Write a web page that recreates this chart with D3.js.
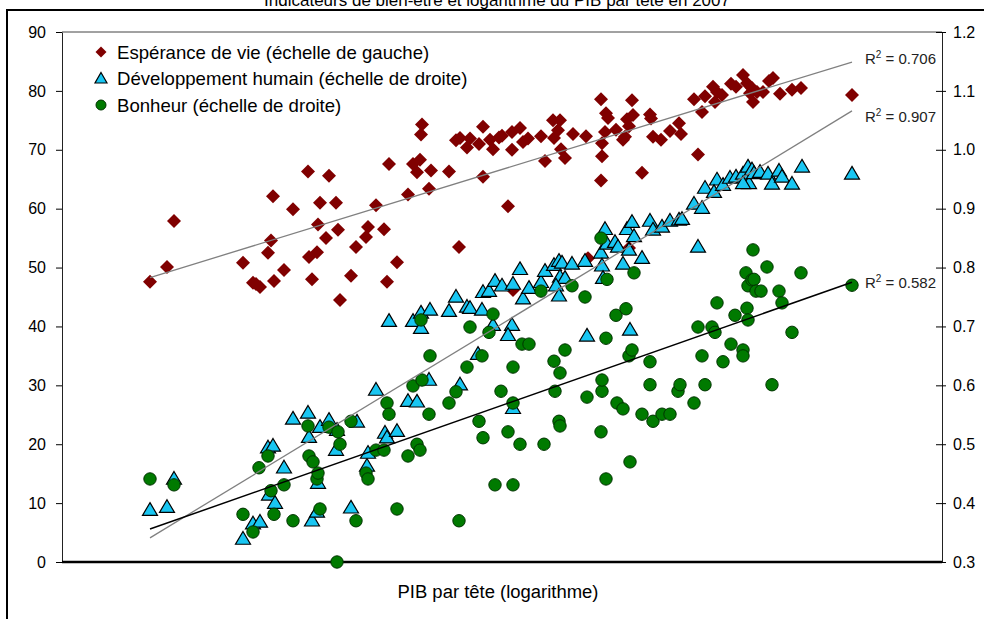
<!DOCTYPE html>
<html>
<head>
<meta charset="utf-8">
<script src="https://cdn.jsdelivr.net/npm/d3@7"></script>
<style>
    body { margin: 0; background: #fff; }
    svg { display: block; font-family: "Liberation Sans", Arial, sans-serif; }
    .narrow { font-family: "Liberation Sans Narrow", "Arial Narrow", "Liberation Sans", sans-serif; }
</style>
</head>
<body>
<svg id="chart" width="984" height="619"></svg>
<script>
/*global d3*/
"use strict";

var title = 'Indicateurs de bien-être et logarithme du PIB par tête en 2007',
    xLabel = 'PIB par tête (logarithme)',
    legendLabels = [
        'Espérance de vie (échelle de gauche)',
        'Développement humain (échelle de droite)',
        'Bonheur (échelle de droite)'
    ],
    r2Labels = ['0.706', '0.907', '0.582'],
    leftTicks = [0, 10, 20, 30, 40, 50, 60, 70, 80, 90],
    rightTicks = [0.3, 0.4, 0.5, 0.6, 0.7, 0.8, 0.9, 1.0, 1.1, 1.2];

// [log PIB par tête, espérance de vie en années]
var esperance = [
    [5.88, 47.6], [6.05, 50.1], [6.12, 57.9], [6.81, 50.8], [6.91, 47.4], [6.94, 47.2],
    [6.98, 46.7], [7.06, 52.5], [7.09, 54.6], [7.11, 62.1], [7.12, 47.7], [7.22, 49.6],
    [7.31, 59.9], [7.46, 66.3], [7.47, 51.8], [7.50, 48.0], [7.55, 52.6], [7.56, 57.3],
    [7.58, 61.0], [7.64, 55.0], [7.67, 65.6], [7.74, 61.0], [7.76, 56.4], [7.78, 44.5],
    [7.89, 48.6], [7.94, 53.5], [8.04, 55.2], [8.06, 56.9], [8.14, 60.6], [8.22, 56.5],
    [8.25, 47.6], [8.27, 67.6], [8.35, 50.9], [8.46, 62.4], [8.51, 67.6], [8.55, 66.2],
    [8.58, 68.3], [8.59, 72.6], [8.60, 74.3], [8.67, 63.4], [8.69, 66.5], [8.87, 66.3],
    [8.94, 71.6], [8.97, 53.5], [8.98, 72.0], [9.05, 70.4], [9.08, 71.9], [9.17, 71.0],
    [9.21, 73.9], [9.21, 65.4], [9.28, 71.7], [9.31, 70.1], [9.37, 72.1], [9.40, 72.4],
    [9.46, 60.4], [9.50, 73.0], [9.50, 70.0], [9.51, 46.2], [9.58, 73.7], [9.61, 71.3],
    [9.66, 71.9], [9.79, 72.3], [9.83, 68.1], [9.91, 75.0], [9.96, 73.3], [9.92, 72.0],
    [9.98, 75.0], [9.99, 70.1], [10.03, 68.6], [10.11, 72.7], [10.24, 72.3], [10.26, 51.6],
    [10.39, 78.6], [10.40, 71.1], [10.40, 68.9], [10.39, 64.8], [10.44, 76.2], [10.46, 75.4],
    [10.43, 73.0], [10.54, 73.4], [10.61, 71.7], [10.63, 72.2], [10.65, 75.2], [10.67, 74.0],
    [10.67, 53.3], [10.70, 78.4], [10.71, 75.9], [10.80, 66.1], [10.88, 76.0], [10.89, 75.3],
    [10.91, 72.2], [10.99, 71.7], [11.08, 73.2], [11.17, 74.5], [11.19, 72.7], [11.32, 78.6],
    [11.36, 69.2], [11.40, 76.4], [11.43, 79.1], [11.51, 80.7], [11.55, 79.8], [11.53, 78.1],
    [11.60, 79.3], [11.69, 81.2], [11.74, 80.7], [11.81, 82.7], [11.85, 81.3], [11.88, 79.6],
    [11.90, 80.5], [11.91, 78.1], [11.95, 79.8], [12.01, 79.8], [12.07, 81.7], [12.11, 82.2],
    [12.18, 79.5], [12.30, 80.2], [12.39, 80.5], [12.90, 79.3]
];

// [log PIB par tête, indice de développement humain]
var developpement = [
    [5.88, 0.388], [6.05, 0.393], [6.12, 0.441], [6.81, 0.339], [6.91, 0.365], [6.98, 0.368],
    [7.06, 0.494], [7.11, 0.497], [7.07, 0.414], [7.13, 0.400], [7.22, 0.460], [7.31, 0.543],
    [7.46, 0.553], [7.47, 0.512], [7.50, 0.370], [7.55, 0.385], [7.56, 0.434], [7.58, 0.529],
    [7.67, 0.541], [7.75, 0.524], [7.74, 0.490], [7.89, 0.392], [7.95, 0.538], [8.05, 0.463],
    [8.06, 0.485], [8.14, 0.592], [8.23, 0.519], [8.25, 0.511], [8.35, 0.522], [8.46, 0.573],
    [8.55, 0.572], [8.67, 0.609], [8.98, 0.601], [9.51, 0.561], [8.27, 0.709], [8.51, 0.709],
    [8.59, 0.723], [8.59, 0.697], [8.68, 0.728], [8.87, 0.726], [8.94, 0.750], [9.05, 0.733],
    [9.08, 0.731], [9.20, 0.728], [9.16, 0.653], [9.21, 0.758], [9.27, 0.760], [9.33, 0.777],
    [9.40, 0.769], [9.51, 0.772], [9.58, 0.797], [9.61, 0.747], [9.67, 0.765], [9.79, 0.775],
    [9.83, 0.794], [9.92, 0.804], [9.97, 0.811], [10.00, 0.808], [10.10, 0.806], [9.98, 0.784],
    [10.03, 0.782], [9.94, 0.769], [9.97, 0.752], [9.31, 0.702], [9.50, 0.702], [9.46, 0.685],
    [10.25, 0.684], [10.68, 0.694], [10.23, 0.811], [10.39, 0.825], [10.40, 0.803], [10.41, 0.782],
    [10.43, 0.865], [10.45, 0.840], [10.53, 0.843], [10.56, 0.835], [10.61, 0.806], [10.65, 0.865],
    [10.67, 0.830], [10.72, 0.853], [10.70, 0.877], [10.80, 0.816], [10.88, 0.879], [10.91, 0.864],
    [11.00, 0.869], [11.08, 0.879], [11.17, 0.881], [11.20, 0.882], [11.36, 0.835], [11.32, 0.908],
    [11.40, 0.901], [11.43, 0.935], [11.55, 0.949], [11.52, 0.928], [11.61, 0.940], [11.68, 0.952],
    [11.74, 0.954], [11.81, 0.959], [11.86, 0.971], [11.87, 0.943], [11.81, 0.943], [11.90, 0.966],
    [11.92, 0.960], [11.98, 0.962], [12.06, 0.959], [12.10, 0.942], [12.17, 0.964], [12.20, 0.954],
    [12.30, 0.942], [12.40, 0.971], [12.90, 0.959]
];

// [log PIB par tête, indice de bonheur]
var bonheur = [
    [5.88, 0.441], [6.12, 0.431], [6.81, 0.381], [6.91, 0.351], [6.97, 0.460], [7.06, 0.480],
    [7.09, 0.421], [7.12, 0.381], [7.22, 0.431], [7.31, 0.370], [7.46, 0.531], [7.47, 0.480],
    [7.51, 0.470], [7.55, 0.441], [7.56, 0.451], [7.58, 0.390], [7.67, 0.529], [7.76, 0.521],
    [7.78, 0.500], [7.75, 0.300], [7.89, 0.539], [7.94, 0.370], [8.04, 0.451], [8.06, 0.441],
    [8.14, 0.490], [8.22, 0.490], [8.25, 0.570], [8.27, 0.551], [8.35, 0.390], [8.46, 0.480],
    [8.55, 0.500], [8.58, 0.490], [8.51, 0.599], [8.60, 0.609], [8.67, 0.551], [8.87, 0.570],
    [8.94, 0.589], [8.97, 0.370], [9.17, 0.539], [9.21, 0.511], [9.33, 0.431], [9.51, 0.431],
    [9.39, 0.590], [9.46, 0.521], [9.51, 0.570], [9.58, 0.500], [9.82, 0.500], [9.93, 0.590],
    [9.97, 0.539], [9.98, 0.531], [10.25, 0.580], [10.40, 0.590], [10.40, 0.609], [10.39, 0.521],
    [10.55, 0.570], [10.61, 0.560], [10.44, 0.441], [10.68, 0.470], [10.80, 0.551], [10.91, 0.539],
    [11.00, 0.551], [11.08, 0.551], [10.88, 0.601], [11.16, 0.590], [11.18, 0.601], [11.32, 0.570],
    [11.43, 0.601], [12.10, 0.601], [8.59, 0.711], [8.68, 0.650], [9.08, 0.699], [9.31, 0.721],
    [9.27, 0.690], [9.20, 0.650], [9.05, 0.631], [9.51, 0.631], [9.60, 0.670], [9.67, 0.670],
    [9.79, 0.760], [9.92, 0.641], [9.98, 0.621], [10.03, 0.660], [10.10, 0.769], [10.23, 0.750],
    [10.39, 0.850], [10.45, 0.780], [10.44, 0.680], [10.54, 0.719], [10.64, 0.730], [10.72, 0.791],
    [10.67, 0.650], [10.70, 0.660], [10.88, 0.640], [11.36, 0.699], [11.50, 0.699], [11.53, 0.690],
    [11.40, 0.650], [11.55, 0.740], [11.61, 0.640], [11.69, 0.670], [11.73, 0.719], [11.81, 0.660],
    [11.81, 0.650], [11.85, 0.731], [11.86, 0.711], [11.84, 0.791], [11.86, 0.769], [11.90, 0.779],
    [11.92, 0.780], [11.91, 0.830], [11.94, 0.760], [11.99, 0.760], [12.05, 0.801], [12.17, 0.760],
    [12.20, 0.740], [12.30, 0.690], [12.39, 0.791], [12.90, 0.770]
];

// trend line ends as read on the chart: [log PIB, value]
var trendEsperance = [[5.88, 48.3], [12.90, 84.9]],
    trendDeveloppement = [[5.88, 0.341], [12.90, 1.066]],
    trendBonheur = [[5.88, 0.356], [12.90, 0.775]];

var svg = d3.select('#chart'),
    plot = {left: 62, right: 942, top: 32, bottom: 562},

    x = d3.scaleLinear().domain([5, 13.8]).range([plot.left, plot.right]),
    yLeft = d3.scaleLinear().domain([0, 90]).range([plot.bottom, plot.top]),
    yRight = d3.scaleLinear().domain([0.3, 1.2]).range([plot.bottom, plot.top]),

    diamond = 'M0,-7L7,0L0,7L-7,0Z',
    triangle = 'M0,-7.5L7.5,5.2L-7.5,5.2Z';

// outer frame and title
svg.append('rect')
    .attr('x', 7).attr('y', 10)
    .attr('width', 1000).attr('height', 640)
    .attr('fill', 'none')
    .attr('stroke', '#000')
    .attr('stroke-width', 2);

svg.append('text')
    .attr('x', 497).attr('y', 6)
    .attr('text-anchor', 'middle')
    .attr('font-size', 17)
    .text(title);

// top border of the plot area
svg.append('line')
    .attr('x1', plot.left).attr('x2', plot.right)
    .attr('y1', plot.top).attr('y2', plot.top)
    .attr('stroke', '#444');

var leftAxis = svg.append('g')
    .attr('transform', 'translate(' + plot.left + ',0)')
    .call(d3.axisLeft(yLeft).tickValues(leftTicks).tickSize(6).tickSizeOuter(0).tickPadding(10));

var rightAxis = svg.append('g')
    .attr('transform', 'translate(' + plot.right + ',0)')
    .call(d3.axisRight(yRight).tickValues(rightTicks).tickSize(4).tickSizeOuter(0)
        .tickPadding(7).tickFormat(d3.format('.1f')));

// right ticks cross the axis
rightAxis.selectAll('.tick').append('line')
    .attr('x1', -6).attr('x2', 0)
    .attr('stroke', '#000');

[leftAxis, rightAxis].forEach(function (g) {
    g.select('.domain').attr('stroke', '#222');
    g.selectAll('text')
        .attr('font-size', 16)
        .attr('font-family', '"Liberation Sans", Arial, sans-serif')
        .attr('fill', '#000');
});

// x axis: thick line, no ticks
svg.append('line')
    .attr('x1', plot.left).attr('x2', plot.right)
    .attr('y1', plot.bottom).attr('y2', plot.bottom)
    .attr('stroke', '#000')
    .attr('stroke-width', 2.5);

svg.append('text')
    .classed('narrow', true)
    .attr('x', 498).attr('y', 598)
    .attr('text-anchor', 'middle')
    .attr('font-size', 18)
    .attr('textLength', 201)
    .attr('lengthAdjust', 'spacingAndGlyphs')
    .text(xLabel);

// markers
svg.append('g').selectAll('path')
    .data(esperance)
    .enter().append('path')
    .attr('d', diamond)
    .attr('fill', '#800000')
    .attr('transform', function (d) {
        return 'translate(' + x(d[0]) + ',' + yLeft(d[1]) + ')';
    });

svg.append('g').selectAll('path')
    .data(developpement)
    .enter().append('path')
    .attr('d', triangle)
    .attr('fill', '#19C6F2')
    .attr('stroke', '#000')
    .attr('stroke-width', 1.2)
    .attr('transform', function (d) {
        return 'translate(' + x(d[0]) + ',' + yRight(d[1]) + ')';
    });

svg.append('g').selectAll('circle')
    .data(bonheur)
    .enter().append('circle')
    .attr('cx', function (d) { return x(d[0]); })
    .attr('cy', function (d) { return yRight(d[1]); })
    .attr('r', 6.2)
    .attr('fill', '#007A00')
    .attr('stroke', '#003300')
    .attr('stroke-width', 1);

// trend lines with their R2
var trends = [
    {ends: trendEsperance, y: yLeft, color: '#808080', width: 1.3, dy: 2},
    {ends: trendDeveloppement, y: yRight, color: '#808080', width: 1.3, dy: 11},
    {ends: trendBonheur, y: yRight, color: '#000', width: 1.5, dy: 6}
];

trends.forEach(function (t, i) {
    var line = d3.line()
            .x(function (d) { return x(d[0]); })
            .y(function (d) { return t.y(d[1]); }),
        last = t.ends[1],
        label;

    svg.append('path')
        .attr('d', line(t.ends))
        .attr('fill', 'none')
        .attr('stroke', t.color)
        .attr('stroke-width', t.width);

    label = svg.append('text')
        .classed('narrow', true)
        .attr('x', x(last[0]) + 13)
        .attr('y', t.y(last[1]) + t.dy)
        .attr('font-size', 15)
        .attr('fill', '#222');
    label.append('tspan').text('R');
    label.append('tspan').attr('font-size', 10).attr('dy', -6).text('2');
    label.append('tspan').attr('dy', 6).text(' = ' + r2Labels[i]);
});

// legend
var legend = svg.append('g').attr('transform', 'translate(101,52)'),
    rows = legend.selectAll('g')
        .data(legendLabels)
        .enter().append('g')
        .attr('transform', function (d, i) { return 'translate(0,' + (i * 26.5) + ')'; });

rows.filter(function (d, i) { return i === 0; }).append('path')
    .attr('d', 'M0,-5.5L5.5,0L0,5.5L-5.5,0Z')
    .attr('fill', '#800000');
rows.filter(function (d, i) { return i === 1; }).append('path')
    .attr('d', 'M0,-6L6,4.5L-6,4.5Z')
    .attr('fill', '#19C6F2')
    .attr('stroke', '#000')
    .attr('stroke-width', 1.2);
rows.filter(function (d, i) { return i === 2; }).append('circle')
    .attr('r', 5)
    .attr('fill', '#007A00')
    .attr('stroke', '#003300');

rows.append('text')
    .attr('x', 16)
    .attr('y', 6.5)
    .attr('font-size', 18.6)
    .text(function (d) { return d; });
</script>
</body>
</html>
